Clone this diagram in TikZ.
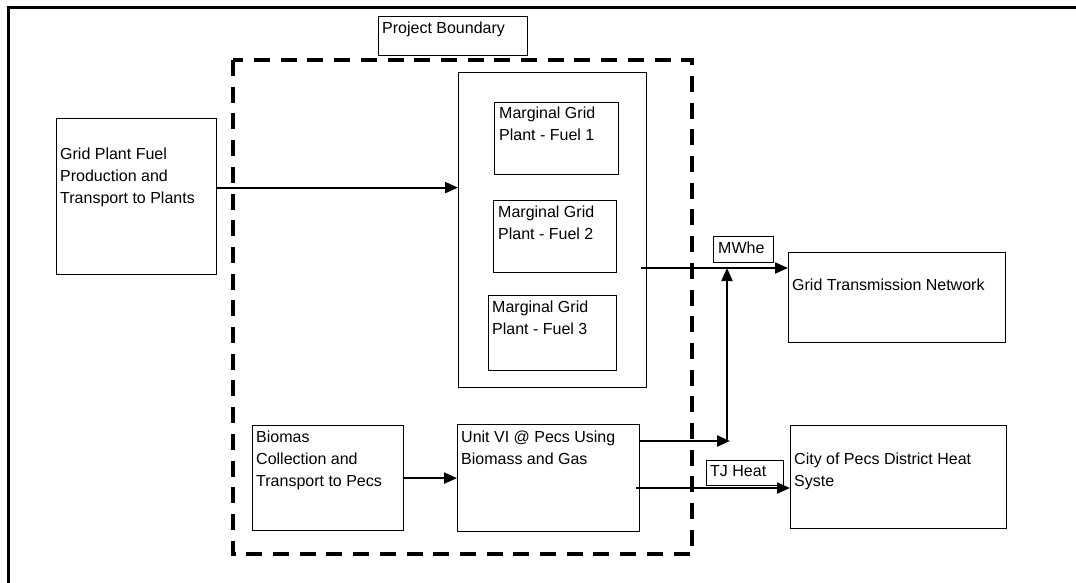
\documentclass[tikz,border=0pt]{standalone}
\usepackage{fontspec}
\setmainfont{Liberation Sans}
\usepackage{tikz}
\usetikzlibrary{arrows.meta}

\tikzset{
  blk/.style={draw, line width=1.2pt, anchor=north west, inner sep=0pt},
  txt/.style={anchor=north west, inner sep=0pt, align=left, font=\fontsize{16}{22}\selectfont},
  flow/.style={line width=2.2pt, -{Triangle[length=13pt,width=11pt]}},
  boundary/.style={line width=4pt, dash pattern=on 16pt off 10.7pt},
}

\begin{document}
\begin{tikzpicture}[x=1pt, y=-1pt]
        \useasboundingbox (0,0) rectangle (1076,583);

        % frame
        \draw[line width=3pt] (8,583) -- (8,8) -- (1076,8);

        % boxes
        \node[blk, minimum width=149, minimum height=39] (pb) at (378,16) {};
        \node[blk, minimum width=160, minimum height=156] (fuel) at (56,118) {};
        \node[blk, minimum width=188, minimum height=315] (plants) at (458,72) {};
        \node[blk, minimum width=124, minimum height=72] (f1) at (494,102) {};
        \node[blk, minimum width=123, minimum height=72] (f2) at (493,200) {};
        \node[blk, minimum width=128, minimum height=75] (f3) at (488,295) {};
        \node[blk, minimum width=60, minimum height=26] (mwhe) at (713,236) {};
        \node[blk, minimum width=217, minimum height=90] (grid) at (788,252) {};
        \node[blk, minimum width=216, minimum height=103] (city) at (790,425) {};
        \node[blk, minimum width=77, minimum height=25] (tjheat) at (706,460) {};
        \node[blk, minimum width=151, minimum height=105] (bio) at (252,425) {};
        \node[blk, minimum width=182, minimum height=107] (unit) at (457,424) {};

        % texts (top of first line)
        \node[txt] (pbtxt) at (382,21.5) {Project Boundary};
        \node[txt] (fueltxt) at (60,147.5) {Grid Plant Fuel\\Production and\\Transport to Plants};
        \node[txt] (f1txt) at (499,106.5) {Marginal Grid\\Plant - Fuel 1};
        \node[txt] (f2txt) at (498,205.5) {Marginal Grid\\Plant - Fuel 2};
        \node[txt] (f3txt) at (492,300.5) {Marginal Grid\\Plant - Fuel 3};
        \node[txt] (mwtxt) at (718,241.5) {MWhe};
        \node[txt] (gridtxt) at (792,278.5) {Grid Transmission Network};
        \node[txt] (citytxt) at (794,452.5) {City of Pecs District Heat\\Syste};
        \node[txt] (tjtxt) at (710,465.5) {TJ Heat};
        \node[txt] (biotxt) at (256,430.5) {Biomas\\Collection and\\Transport to Pecs};
        \node[txt] (unittxt) at (461,430.5) {Unit VI @ Pecs Using\\Biomass and Gas};

        % project boundary
        \draw[boundary] (233,60) rectangle (692,554);

        % flows
        \coordinate (mw) at (727,268);
        \coordinate (ht) at (727,441);
        \coordinate (tj) at (0,488);
        \draw[flow] ([yshift=9pt]fuel.east) coordinate (f0) -- (f0 -| plants.west);
        \draw[flow] (bio) -- (unit);
        \draw[flow] ([xshift=-6pt]plants.east |- mw) -- (mw -| grid.west);
        \draw[flow] (unit.east |- ht) -- ([xshift=3pt]ht);
        \draw[flow] (ht) -- (mw);
        \draw[flow] ([xshift=-4pt]unit.east |- tj) -- (city.west |- tj);
\end{tikzpicture}
\end{document}
